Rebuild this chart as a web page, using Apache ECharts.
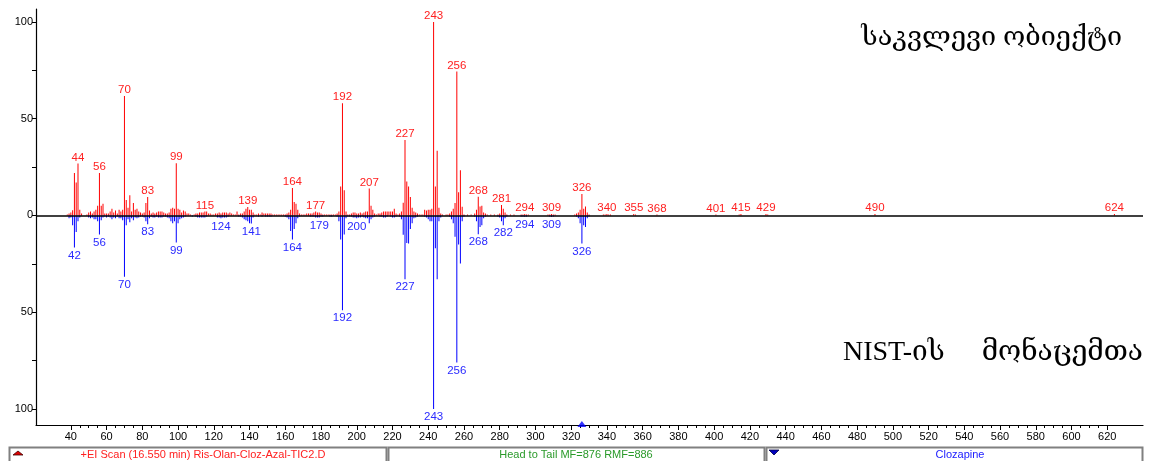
<!DOCTYPE html>
<html>
<head>
<meta charset="utf-8">
<script src="https://cdn.jsdelivr.net/npm/echarts@6/dist/echarts.min.js"></script>
<style>
  html, body { margin: 0; padding: 0; background: #fff; }
  #chart { width: 1151px; height: 461px; }
</style>
</head>
<body>
<div id="chart"></div>
<script>
// sample spectrum (top, red): m/z and relative abundance
var sampleMz = [38,39,40,41,42,43,44,45,46,49,50,51,52,53,54,55,56,57,58,59,60,61,62,63,64,65,66,67,68,69,
  70,71,72,73,74,75,76,77,78,79,80,81,82,83,84,85,86,87,88,89,90,91,92,93,94,95,96,97,98,99,
  100,101,102,103,104,105,106,107,109,110,111,112,113,114,115,116,117,118,119,120,121,122,123,124,125,126,127,128,129,130,
  131,132,133,134,135,136,137,138,139,140,141,142,143,144,145,146,147,148,149,150,151,152,153,154,155,156,157,158,159,160,
  161,162,163,164,165,166,167,168,169,170,171,172,173,174,175,176,177,178,179,180,181,182,183,184,185,186,187,188,189,190,
  191,192,193,194,195,196,197,198,199,200,201,202,203,204,205,206,207,208,209,210,211,212,213,214,215,216,217,218,219,220,
  221,222,223,224,225,226,227,228,229,230,231,232,233,234,235,236,237,238,239,240,241,242,243,244,245,246,247,248,250,251,
  252,253,254,255,256,257,258,259,260,262,264,266,267,268,269,270,271,272,273,275,277,279,280,281,282,283,284,286,288,
  292,293,294,295,296,307,308,309,310,311,322,323,324,325,326,327,328,329,330,338,339,340,341,342,355,356,368,401,414,415,429,430,490,624];
var sampleInt = [0.5,1,1.5,2.7,22,17,26.8,3,1,0.5,1.5,2,1,2,3,5,22,5,6,1,1,1,2,3.5,1.5,2.5,1,3,2,3,
  61.7,8,4,10.4,2,6.5,3,3.5,2,1.5,1,1.5,6.5,9.6,2.5,1,1.5,1,1.5,2,2,2,1.5,1,1,1.5,3.5,4,3.5,27,
  3.5,3,1.5,2.5,2,1,1,0.5,0.5,1,1,1.5,1.5,1.5,2,2,1,1,0.5,0.5,1,1,1.5,1,1.5,1.5,1.5,1,1.5,1,
  0.5,0.5,2,0.5,1,1,2,3.5,4.4,3,3,1.5,0.5,0.5,1,0.5,1.5,1,1,1,1,1,0.5,0.5,0.5,0.5,0.5,0.5,0.5,0.5,
  1,1.5,3,14.2,7,6,3,1,0.5,0.5,0.5,1,1,1,1,1.5,2,1.5,1.5,1,0.5,0.5,0.5,0.5,0.5,0.5,0.5,0.5,1,2,
  15,58,13,2,0.5,0.5,1,1.5,1.5,1,1,1.5,1,1.5,2,2,13.9,5,3,1,0.5,1,1,1.5,2,2,2,2,2,2,
  3.5,1,0.5,1,2,6.6,39,17.5,15,9.5,4,2,1.5,1,0.5,0.5,0.5,3,2.5,3,3,3.5,100,15,33.5,4,1,0.5,0.5,0.5,
  1,2,3.5,6.5,74.4,12,23.3,4.5,0.5,0.5,0.5,1,3,9.7,4.6,5,1.5,1,0.5,0.5,0.5,0.5,1,5.4,3.5,1.5,0.5,0.5,0.5,
  0.5,0.5,0.7,0.5,0.5,0.5,0.5,0.7,0.5,0.5,0.5,1,1.5,3,11.1,3.5,4.6,1.5,0.5,0.5,0.5,0.7,0.5,0.5,0.7,0.5,0.5,0.5,0.5,0.7,0.7,0.5,0.7,0.7];
var sampleLabels = [44,56,70,83,99,115,139,164,177,192,207,227,243,256,268,281,294,309,326,340,355,368,401,415,429,490,624];

// NIST library spectrum (bottom, blue)
var libMz = [39,40,41,42,43,44,45,50,51,52,53,54,55,56,57,58,59,60,61,62,63,64,65,66,67,68,69,
  70,71,72,73,74,75,76,77,78,79,80,81,82,83,84,85,86,87,88,89,90,91,92,93,94,95,96,97,98,99,
  100,101,102,103,104,108,110,111,112,113,114,115,116,122,123,124,125,126,127,128,134,135,136,137,138,139,140,141,142,
  145,147,149,150,151,152,160,161,162,163,164,165,166,167,168,174,175,176,177,178,179,180,181,185,186,189,190,
  191,192,193,194,195,196,197,198,199,200,201,202,203,204,205,206,207,208,209,210,213,214,215,216,217,219,220,
  221,222,224,225,226,227,228,229,230,231,232,233,234,238,239,240,241,242,243,244,245,246,247,
  252,253,254,255,256,257,258,259,260,266,267,268,269,270,271,272,279,280,281,282,283,284,
  292,293,294,295,308,309,310,323,324,325,326,327,328,329,330];
var libInt = [1.5,1,5,16.5,8.5,3,1,1,1.5,1,2,2,3,9.8,2.5,1,0.5,1,0.5,1,2,1,1.5,0.5,1.5,1.5,2.5,
  31.7,5,2,3.5,1.5,2.5,1,1.5,1,0.5,0.5,1,3,4.5,1.5,0.5,1,1,0.5,1,1,1,0.5,0.5,1,1.5,3,4,3,14,
  4,2,1.5,1,0.5,0.5,0.5,1,1,1,1,1,0.5,1,1,1.5,1,1,1,0.5,0.5,0.5,1,2,2.5,3,4,4.1,1,
  0.5,0.5,0.5,0.5,0.5,0.5,0.5,1,2,8,12.4,7,4,1.5,0.5,0.5,0.5,0.5,1,1,1,0.5,0.5,0.5,0.5,0.5,3,
  12.4,49,9.8,1.5,0.5,0.5,0.5,1,1,1.5,1,1,0.5,1,1.5,1.5,4,2,1,0.5,0.5,0.5,1,1,0.5,0.5,1,
  1,0.5,0.5,2,10,33,14.2,14.5,7,4,1.5,1,0.5,0.5,1,2,3,3,100,17,33,3,1,
  0.5,2,4,11,76,15,24.8,3,0.5,0.5,3,9.7,6,5,1.5,0.5,0.5,1,3,5,1.5,0.5,
  0.5,0.5,0.7,0.5,0.5,0.7,0.5,0.5,1.5,4,14.5,5,6,1.5,0.5];
var libLabels = [42,56,70,83,99,124,141,164,179,192,200,227,243,256,268,282,294,309,326];

var xTickLabels = [];
for (var t = 40; t <= 620; t += 20) xTickLabels.push(t);
var xMinorTicks = [];
for (var m = 40; m <= 620; m += 5) xMinorTicks.push(m);
var yTickLabels = [-100, -50, 0, 50, 100];
var yTicks = [-100, -75, -50, -25, 0, 25, 50, 75, 100];

var compoundName = 'Clozapine';
var scanTitle = '+EI Scan (16.550 min) Ris-Olan-Cloz-Azal-TIC2.D';
var matchText = 'Head to Tail MF=876 RMF=886';
var markerMz = 326;

function buildData(mz, vals, labels, sign) {
    return mz.map(function (x, i) {
        var item = { value: [x, sign * vals[i]] };
        if (labels.indexOf(x) >= 0) item.label = { show: true };
        return item;
    });
}

var labelFont = 'Liberation Sans, Arial, sans-serif';
var geoFont = 'Liberation Serif, DejaVu Serif, serif';

var option = {
    animation: false,
    grid: { left: 36, right: 8, top: 9, bottom: 36 },
    xAxis: [{
        type: 'value',
        min: 20.5,
        max: 640,
        axisLine: { onZero: false, lineStyle: { color: '#000', width: 1.2 } },
        axisTick: { customValues: xTickLabels, length: 5, lineStyle: { color: '#000' } },
        axisLabel: { customValues: xTickLabels, color: '#000', fontSize: 11, fontFamily: labelFont, margin: 6 },
        splitLine: { show: false }
    }, {
        type: 'value',
        min: 20.5,
        max: 640,
        position: 'bottom',
        axisLine: { show: false, onZero: false },
        axisTick: { customValues: xMinorTicks, length: 3, lineStyle: { color: '#000' } },
        axisLabel: { show: false },
        splitLine: { show: false }
    }],
    yAxis: {
        type: 'value',
        min: -108.3,
        max: 106.7,
        axisLine: { show: true, lineStyle: { color: '#000', width: 1.2 } },
        axisTick: { show: true, customValues: yTicks, length: 4, lineStyle: { color: '#000' } },
        axisLabel: {
            customValues: yTickLabels, color: '#000', fontSize: 11, fontFamily: labelFont, margin: 3,
            formatter: function (v) { return Math.abs(v); }
        },
        splitLine: { show: false }
    },
    series: [{
        name: 'sample',
        type: 'bar',
        barWidth: 1,
        barGap: '-100%',
        itemStyle: { color: '#ff0000' },
        label: {
            show: false, position: 'top', distance: 0, color: '#ff2020', fontSize: 11.5, fontFamily: labelFont,
            formatter: function (p) { return p.value[0]; }
        },
        data: buildData(sampleMz, sampleInt, sampleLabels, 1),
        markLine: {
            silent: true, symbol: 'none', label: { show: false },
            lineStyle: { color: '#000', width: 1.5, type: 'solid' },
            data: [{ yAxis: 0 }]
        }
    }, {
        name: 'library',
        type: 'bar',
        barWidth: 1,
        barGap: '-100%',
        itemStyle: { color: '#0000ff' },
        label: {
            show: false, position: 'bottom', distance: 2, color: '#2a2aff', fontSize: 11.5, fontFamily: labelFont,
            formatter: function (p) { return p.value[0]; }
        },
        data: buildData(libMz, libInt, libLabels, -1)
    }, {
        name: 'marker',
        type: 'scatter',
        symbol: 'triangle',
        symbolSize: [9, 6],
        symbolOffset: [0, -1],
        itemStyle: { color: '#0000ff' },
        data: [[markerMz, -108.3]],
        z: 5
    }],
    graphic: [
        { type: 'text', right: 29, top: 24, style: { text: 'საკვლევი ობიექტი', font: '27px ' + geoFont, fill: '#000' } },
        { type: 'text', left: 843, top: 339, style: { text: 'NIST-ის', font: '28px ' + geoFont, fill: '#000' } },
        { type: 'text', right: 8, top: 339, style: { text: 'მონაცემთა', font: '28px ' + geoFont, fill: '#000' } },
        // status bar panels
        { type: 'rect', shape: { x: 9.5, y: 447.5, width: 377, height: 20 }, style: { fill: '#fff', stroke: '#808080', lineWidth: 2 } },
        { type: 'rect', shape: { x: 388.5, y: 447.5, width: 376, height: 20 }, style: { fill: '#fff', stroke: '#808080', lineWidth: 2 } },
        { type: 'rect', shape: { x: 766.5, y: 447.5, width: 376, height: 20 }, style: { fill: '#fff', stroke: '#808080', lineWidth: 2 } },
        { type: 'polygon', shape: { points: [[13, 455], [23, 455], [18, 451]] }, style: { fill: '#e00000', stroke: '#400000', lineWidth: 0.8 } },
        { type: 'polygon', shape: { points: [[769, 450], [779, 450], [774, 455]] }, style: { fill: '#0000c0', stroke: '#000040', lineWidth: 0.8 } },
        { type: 'text', x: 203, y: 454.5, style: { text: scanTitle, font: '11px ' + labelFont, fill: '#ff2020', align: 'center', verticalAlign: 'middle' } },
        { type: 'text', x: 576, y: 454.5, style: { text: matchText, font: '11px ' + labelFont, fill: '#2a9a2a', align: 'center', verticalAlign: 'middle' } },
        { type: 'text', x: 960, y: 454.5, style: { text: compoundName, font: '11px ' + labelFont, fill: '#2020ff', align: 'center', verticalAlign: 'middle' } }
    ]
};

var myChart = echarts.init(document.getElementById('chart'));
myChart.setOption(option);
</script>
</body>
</html>
